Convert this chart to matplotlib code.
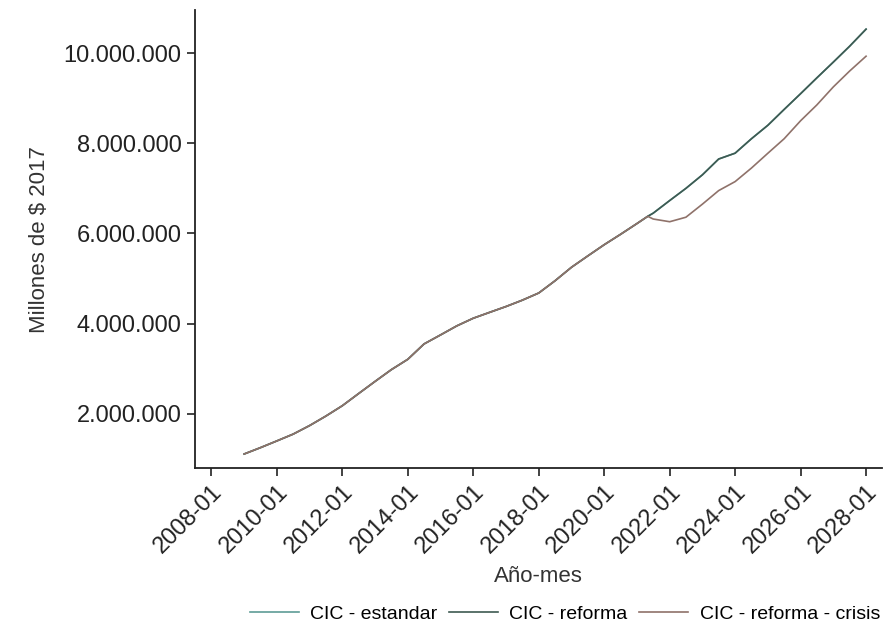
import numpy as np
import pandas as pd
import matplotlib
matplotlib.use("Agg")
import matplotlib.pyplot as plt
import matplotlib.dates as mdates
from matplotlib.ticker import FuncFormatter

plt.rcParams['font.family'] = ['Liberation Sans', 'DejaVu Sans']

# tramo comun (millones de $ -> se multiplica por 1e6)
dates_common = ["2009-01", "2009-07", "2010-01", "2010-07", "2011-01", "2011-07",
                "2012-01", "2012-07", "2013-01", "2013-07", "2014-01", "2014-07",
                "2015-01", "2015-07", "2016-01", "2016-07", "2017-01", "2017-07",
                "2018-01", "2018-07", "2019-01", "2019-07", "2020-01", "2020-07",
                "2021-01", "2021-05"]
values_common = [1.11, 1.25, 1.40, 1.55, 1.74, 1.95,
                 2.18, 2.45, 2.72, 2.98, 3.21, 3.55,
                 3.75, 3.95, 4.12, 4.25, 4.38, 4.52,
                 4.68, 4.95, 5.25, 5.50, 5.75, 5.98,
                 6.22, 6.38]

dates_branch = ["2021-07", "2022-01", "2022-07", "2023-01", "2023-07", "2024-01",
                "2024-07", "2025-01", "2025-07", "2026-01", "2026-07", "2027-01",
                "2027-07", "2028-01"]
estandar_branch = [6.45, 6.73, 7.00, 7.30, 7.65, 7.78,
                   8.10, 8.40, 8.75, 9.10, 9.45, 9.80,
                   10.15, 10.53]
reforma_branch = [6.45, 6.73, 7.00, 7.30, 7.65, 7.78,
                  8.10, 8.40, 8.75, 9.10, 9.45, 9.80,
                  10.15, 10.53]
crisis_branch = [6.32, 6.26, 6.36, 6.65, 6.95, 7.15,
                 7.45, 7.78, 8.10, 8.50, 8.85, 9.25,
                 9.60, 9.93]

x = pd.to_datetime(dates_common + dates_branch)
estandar = np.array(values_common + estandar_branch) * 1e6
reforma = np.array(values_common + reforma_branch) * 1e6
crisis = np.array(values_common + crisis_branch) * 1e6

fig = plt.figure(figsize=(8.94, 6.38), dpi=100)
ax = fig.add_axes([0.218, 0.2665, 0.769, 0.7175])

ax.plot(x, estandar, color='#5e9c96', lw=1.2, label='CIC - estandar')
ax.plot(x, reforma, color='#3e5a52', lw=1.2, label='CIC - reforma')
ax.plot(x, crisis, color='#8f726a', lw=1.2, label='CIC - reforma - crisis')

ax.set_xlim(pd.Timestamp("2007-07-01"), pd.Timestamp("2028-07-01"))
ax.set_ylim(0.8e6, 10.95e6)
ax.set_yticks([2e6, 4e6, 6e6, 8e6, 10e6])
ax.yaxis.set_major_formatter(FuncFormatter(lambda v, p: f"{int(v):,}".replace(",", ".")))

xticks = pd.to_datetime([f"{y}-01" for y in range(2008, 2029, 2)])
ax.set_xticks(xticks)
ax.xaxis.set_major_formatter(mdates.DateFormatter('%Y-%m'))
plt.setp(ax.get_xticklabels(), rotation=45, ha='right', rotation_mode='anchor')

ax.spines['top'].set_visible(False)
ax.spines['right'].set_visible(False)
for s in ['left', 'bottom']:
    ax.spines[s].set_linewidth(1.3)
    ax.spines[s].set_color('#222222')
ax.tick_params(axis='both', labelsize=17, length=6, width=1.2, colors='#222222')

ax.set_ylabel('Millones de $ 2017', fontsize=16, color='#333333', labelpad=10)
ax.set_xlabel('Año-mes', fontsize=16, color='#333333', labelpad=6)

fig.legend(loc='center', bbox_to_anchor=(0.632, 0.038), ncol=3, frameon=False,
           fontsize=14, handlelength=2.5, columnspacing=0.6, handletextpad=0.6)

fig.savefig('out.png', dpi=100)
